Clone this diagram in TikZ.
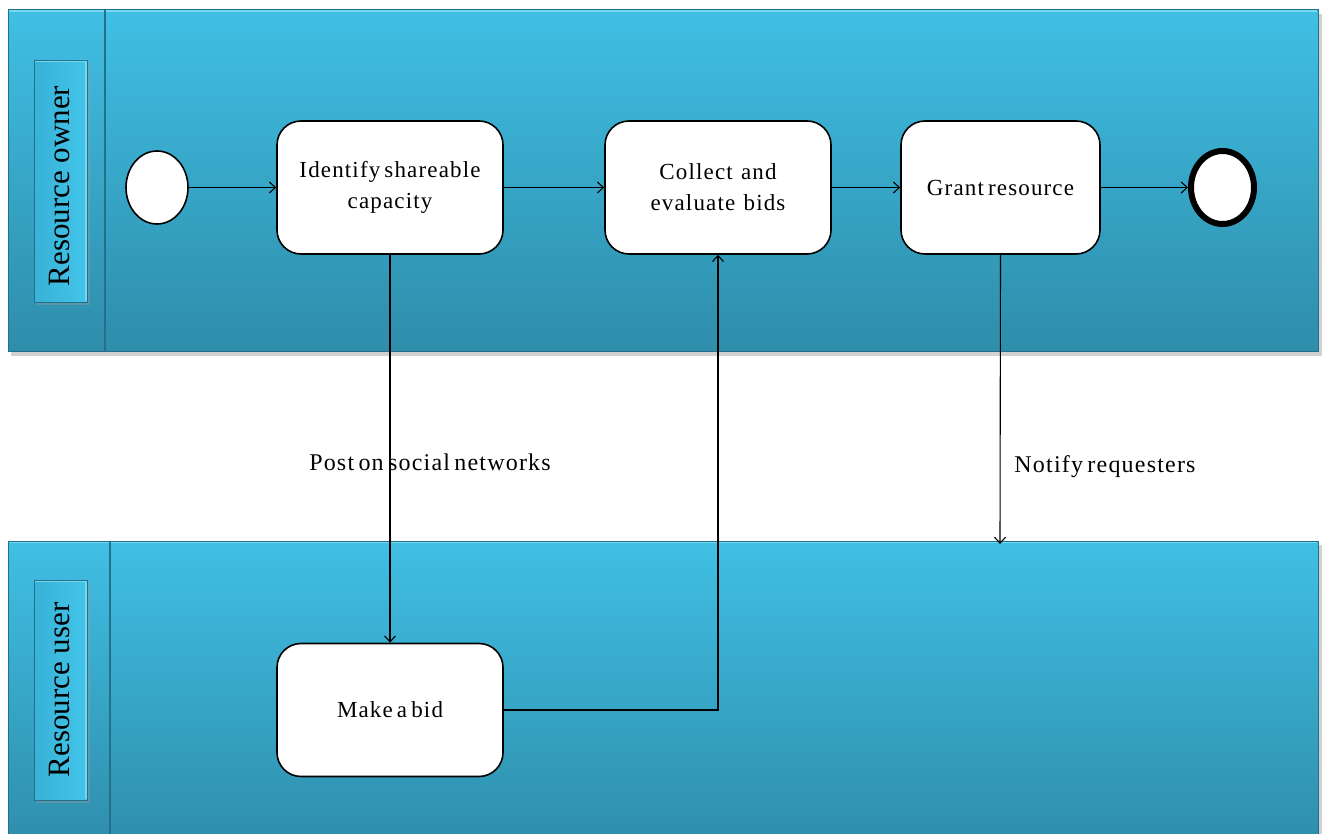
\documentclass[tikz,border=0pt]{standalone}
\usepackage{fontspec}
\setmainfont{Liberation Serif}
\newfontfamily\spacedserif[LetterSpace=5,WordSpace=0.6]{Liberation Serif}
\usetikzlibrary{arrows.meta,shapes.geometric}
\definecolor{poolTop}{RGB}{64,191,228}
\definecolor{poolBot}{RGB}{46,141,170}
\definecolor{poolEdge}{RGB}{34,112,138}
\definecolor{poolLight}{RGB}{120,215,240}
\definecolor{labTop}{RGB}{56,178,214}
\definecolor{labMid}{RGB}{66,196,234}
\tikzset{
  task/.style={draw=black, line width=1.6pt, fill=white, rounded corners=24pt,
    minimum width=226pt, minimum height=133pt, align=center,
    font=\spacedserif\fontsize{23}{31}\selectfont},
  startev/.style={draw=black, line width=1.6pt, fill=white, ellipse,
    minimum width=62pt, minimum height=73pt, inner sep=0pt},
  endev/.style={draw=black, line width=6pt, fill=white, ellipse,
    minimum width=63pt, minimum height=73pt, inner sep=0pt},
  flow/.style={line width=1.1pt, -{Straight Barb[length=6pt,width=11pt]}},
  flowlabel/.style={font=\spacedserif\fontsize{24}{26}\selectfont, inner sep=2pt},
  lanelabel/.style={font=\fontsize{31}{34}\selectfont, rotate=90},
}
\newcommand{\poolband}[5]{%
  % #1 top, #2 bottom, #3 header split x, #4 label top, #5 label bottom
  \fill[black!45, opacity=0.4] (11,#1+4) rectangle (1322,#2+4);
  \shade[top color=poolTop, bottom color=poolBot] (8,#1) rectangle (1318,#2);
  \draw[poolLight, line width=1.5pt] (9,#1+1) -- (1317,#1+1);
  \draw[poolEdge, line width=1pt] (8,#1) rectangle (1318,#2);
  \draw[poolEdge, line width=1.2pt] (#3,#1) -- (#3,#2);
  \fill[black!40, opacity=0.4] (36,#4+3) rectangle (90,#5+3);
  \shade[left color=labTop, right color=labMid] (34,#4) rectangle (87,#5);
  \draw[poolLight, line width=1.5pt] (35,#4+1) -- (86,#4+1) (86,#4+1) -- (86,#5-1);
  \draw[poolEdge, line width=0.8pt] (34,#4) rectangle (87,#5);
}
\begin{document}
\begin{tikzpicture}[x=1pt,y=-1pt]
\useasboundingbox (0,0) rectangle (1323,834);
\begin{scope}
\clip (0,0) rectangle (1323,834);
\poolband{10}{352}{105}{60}{302}
\poolband{541}{850}{110}{580}{800}
\end{scope}

\node[lanelabel] (laneA) at (60,186) {Resource owner};
\node[lanelabel] (laneB) at (60,690) {Resource user};

\node[startev] (start) at (157,187.5) {};
\node[task] (identify) at (390,187.5) {Identify shareable\\capacity};
\node[task] (collect) at (718,187.5) {Collect\ \ and\\evaluate\ \ bids};
\node[task, minimum width=199pt] (grant) at (1000.5,187.5) {Grant resource};
\node[endev] (finish) at (1222.5,187.5) {};
\node[task] (bid) at (390,710) {Make a bid};

\coordinate (notifyEnd) at (1000,544);

\draw[flow] (start) -- (identify);
\draw[flow] (identify) -- (collect);
\draw[flow] (collect) -- (grant);
\draw[flow] (grant) -- (finish);
\draw[flow] (identify.south) -- (bid.north);
\draw[flow] (bid.east) -| (collect.south);
\draw[flow] (grant.south) -- (notifyEnd);

\node[flowlabel] (postLbl) at (430,462) {Post on social networks};
\node[flowlabel] (notifyLbl) at (1105,467) {Notify requesters};
\end{tikzpicture}
\end{document}
